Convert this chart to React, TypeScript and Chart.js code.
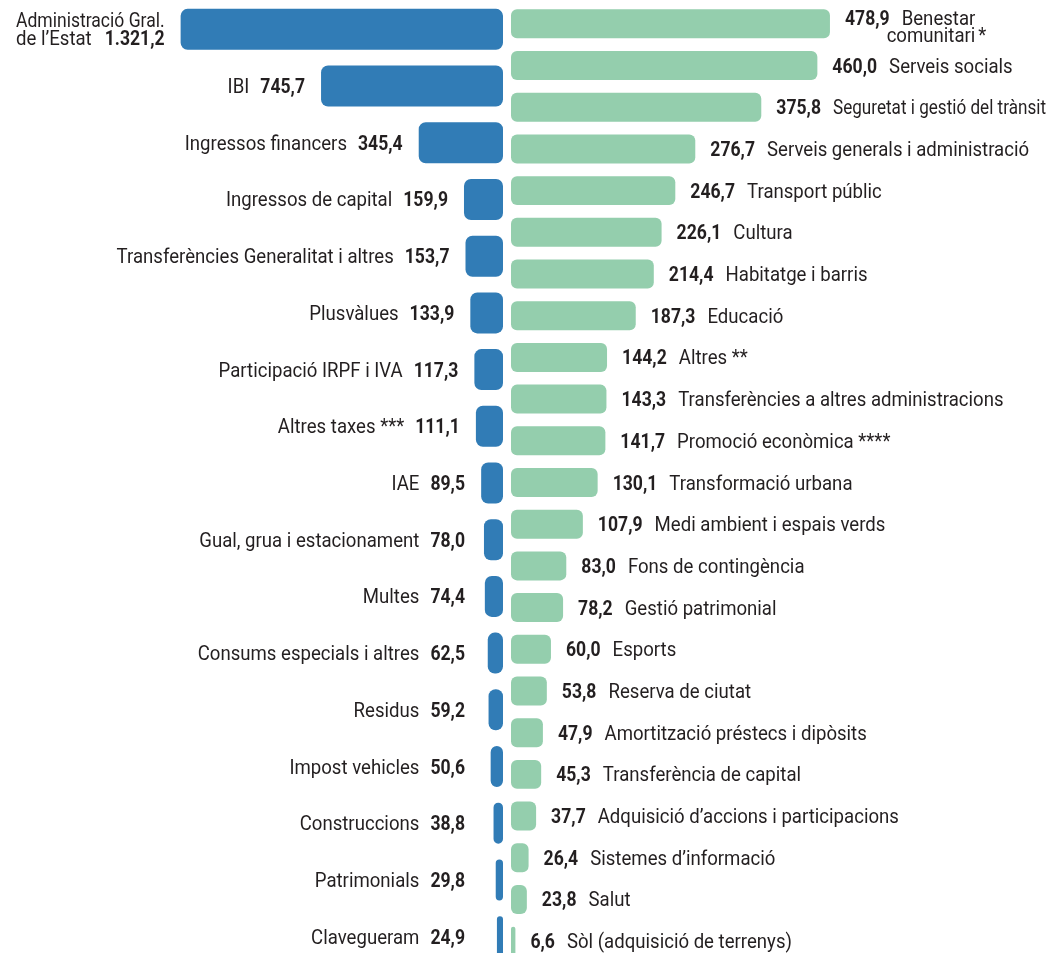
import React, { useEffect, useRef } from "react";
import { Chart, registerables } from "chart.js";

Chart.register(...registerables);

const incomeCategories = [
  "Administració Gral.\nde l’Estat",
  "IBI",
  "Ingressos financers",
  "Ingressos de capital",
  "Transferències Generalitat i altres",
  "Plusvàlues",
  "Participació IRPF i IVA",
  "Altres taxes ***",
  "IAE",
  "Gual, grua i estacionament",
  "Multes",
  "Consums especials i altres",
  "Residus",
  "Impost vehicles",
  "Construccions",
  "Patrimonials",
  "Clavegueram",
];
const incomeValues = [
  1321.2, 745.7, 345.4, 159.9, 153.7, 133.9, 117.3, 111.1, 89.5, 78.0, 74.4,
  62.5, 59.2, 50.6, 38.8, 29.8, 24.9,
];

const spendingCategories = [
  "Benestar\ncomunitari *",
  "Serveis socials",
  "Seguretat i gestió del trànsit",
  "Serveis generals i administració",
  "Transport públic",
  "Cultura",
  "Habitatge i barris",
  "Educació",
  "Altres **",
  "Transferències a altres administracions",
  "Promoció econòmica ****",
  "Transformació urbana",
  "Medi ambient i espais verds",
  "Fons de contingència",
  "Gestió patrimonial",
  "Esports",
  "Reserva de ciutat",
  "Amortització préstecs i dipòsits",
  "Transferència de capital",
  "Adquisició d’accions i participacions",
  "Sistemes d’informació",
  "Salut",
  "Sòl (adquisició de terrenys)",
];
const spendingValues = [
  478.9, 460.0, 375.8, 276.7, 246.7, 226.1, 214.4, 187.3, 144.2, 143.3, 141.7,
  130.1, 107.9, 83.0, 78.2, 60.0, 53.8, 47.9, 45.3, 37.7, 26.4, 23.8, 6.6,
];

const BLUE = "#317cb6";
const GREEN = "#94cead";
const TEXT = "#231f20";
const FONT_FAMILY = "Roboto";
const FONT_SIZE = 20;
const SX_REG = 0.93;
const SX_BOLD = 0.88;

function fmt(v: number): string {
  const [intPart, dec] = v.toFixed(1).split(".");
  const withDots = intPart.replace(/\B(?=(\d{3})+(?!\d))/g, ".");
  return withDots + "," + dec;
}

function setFont(ctx: CanvasRenderingContext2D, bold: boolean) {
  ctx.font = `${bold ? "bold " : ""}${FONT_SIZE}px ${FONT_FAMILY}`;
}
function measure(ctx: CanvasRenderingContext2D, text: string, bold: boolean) {
  ctx.save();
  setFont(ctx, bold);
  const w = ctx.measureText(text).width * (bold ? SX_BOLD : SX_REG);
  ctx.restore();
  return w;
}
function drawText(
  ctx: CanvasRenderingContext2D,
  text: string,
  x: number,
  y: number,
  align: CanvasTextAlign,
  bold: boolean,
  maxWidth?: number
) {
  ctx.save();
  setFont(ctx, bold);
  let sx = bold ? SX_BOLD : SX_REG;
  if (maxWidth !== undefined) {
    const w = ctx.measureText(text).width * sx;
    if (w > maxWidth) sx *= maxWidth / w;
  }
  ctx.fillStyle = TEXT;
  ctx.textBaseline = "alphabetic";
  ctx.translate(x, y);
  ctx.scale(sx, 1);
  ctx.textAlign = align;
  ctx.fillText(text, 0, 0);
  ctx.restore();
}

function labelPlugin(side: "left" | "right", names: string[], values: number[]) {
  return {
    id: "sideLabels_" + side,
    afterDatasetsDraw(chart: any) {
      const ctx: CanvasRenderingContext2D = chart.ctx;
      const meta = chart.getDatasetMeta(0);
      const capHalf = 7;
      const edge = 4;
      meta.data.forEach((bar: any, i: number) => {
        const { x, y } = bar.getProps(["x", "y"], true);
        const val = fmt(values[i]);
        const lines = names[i].split("\n");
        if (side === "left") {
          const gap = 11;
          const end = Math.min(x - 16, 465);
          if (lines.length === 1) {
            const by = y + capHalf;
            drawText(ctx, val, end, by, "right", true);
            const vw = measure(ctx, val, true);
            const nEnd = end - vw - gap;
            drawText(ctx, lines[0], nEnd, by, "right", false, nEnd - edge);
          } else {
            const b1 = y - 2.3;
            const b2 = b1 + 18;
            const w1 = Math.min(measure(ctx, lines[0], false), end - edge - 12);
            drawText(ctx, lines[0], end, b1, "right", false, w1);
            drawText(ctx, lines[1], end - w1, b2, "left", false);
            drawText(ctx, val, end, b2, "right", true);
          }
        } else {
          const gap = 12;
          const start = x + 15;
          const vw = measure(ctx, val, true);
          const nx = start + vw + gap;
          const room = chart.width - edge - nx;
          if (lines.length === 1) {
            const by = y + capHalf;
            drawText(ctx, val, start, by, "left", true);
            drawText(ctx, lines[0], nx, by, "left", false, room);
          } else {
            const b1 = y + 1;
            const b2 = b1 + 17;
            drawText(ctx, val, start, b1, "left", true);
            drawText(ctx, lines[0], nx, b1, "left", false, room);
            const lineEnd = nx + Math.min(measure(ctx, lines[0], false), room);
            const m = lines[1].match(/^(.*?)\s*(\*+)$/);
            if (m) {
              drawText(ctx, m[1], lineEnd, b2, "right", false);
              drawText(ctx, m[2], lineEnd + 3, b2, "left", false);
            } else {
              drawText(ctx, lines[1], lineEnd, b2, "right", false);
            }
          }
        }
      });
    },
  };
}

function makeConfig(
  side: "left" | "right",
  labels: string[],
  values: number[],
  color: string,
  max: number,
  barPct: number,
  radius: number
): any {
  return {
    type: "bar",
    data: {
      labels,
      datasets: [
        {
          data: values,
          backgroundColor: color,
          borderRadius: radius,
          borderSkipped: false,
          barPercentage: barPct,
          categoryPercentage: 1,
        },
      ],
    },
    options: {
      indexAxis: "y",
      responsive: false,
      maintainAspectRatio: false,
      animation: false,
      layout: { padding: 0 },
      plugins: {
        legend: { display: false },
        tooltip: { enabled: false },
        title: { display: false },
      },
      scales: {
        x: {
          display: false,
          min: 0,
          max,
          reverse: side === "left",
        },
        y: {
          display: false,
          offset: true,
        },
      },
    },
    plugins: [labelPlugin(side, labels, values)],
  };
}

export default function App() {
  const leftRef = useRef<HTMLCanvasElement>(null);
  const rightRef = useRef<HTMLCanvasElement>(null);

  useEffect(() => {
    const charts: Chart[] = [];
    if (leftRef.current) {
      charts.push(
        new Chart(
          leftRef.current,
          makeConfig("left", incomeCategories, incomeValues, BLUE, 503 / 0.244, 0.723, 7)
        )
      );
    }
    if (rightRef.current) {
      charts.push(
        new Chart(
          rightRef.current,
          makeConfig("right", spendingCategories, spendingValues, GREEN, 539 / 0.666, 0.695, 6)
        )
      );
    }
    return () => charts.forEach((c) => c.destroy());
  }, []);

  return (
    <div
      style={{
        position: "absolute",
        left: 0,
        top: 0,
        width: 1050,
        height: 953,
        overflow: "hidden",
        background: "#ffffff",
      }}
    >
      <canvas
        ref={leftRef}
        width={503}
        height={964}
        style={{ position: "absolute", left: 0, top: 1, width: 503, height: 964 }}
      />
      <canvas
        ref={rightRef}
        width={539}
        height={959}
        style={{ position: "absolute", left: 511, top: 3, width: 539, height: 959 }}
      />
    </div>
  );
}
